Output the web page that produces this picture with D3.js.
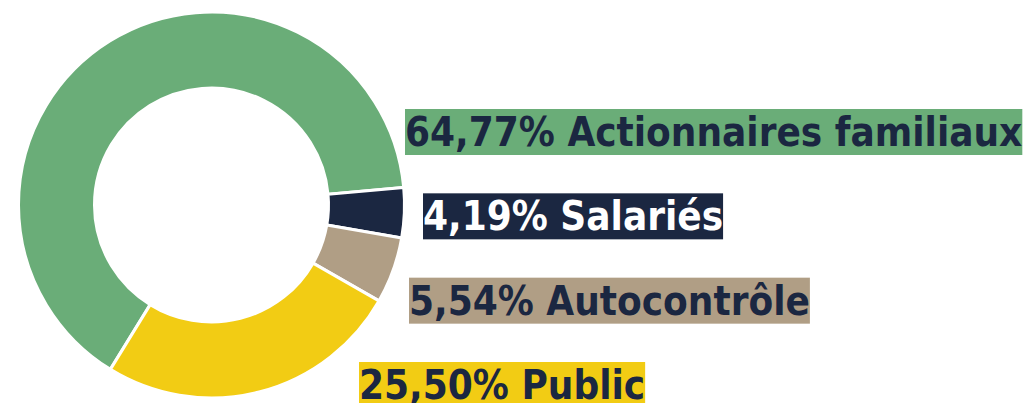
<!DOCTYPE html>
<html>
<head>
<meta charset="utf-8">
<script src="https://cdn.jsdelivr.net/npm/d3@7"></script>
<style>
  body { margin: 0; background: #fff; }
  svg { display: block; }
  text { font-family: "DejaVu Sans Condensed", "DejaVu Sans", sans-serif; font-stretch: condensed; font-weight: bold; font-size: 40px; }
</style>
</head>
<body>
<svg viewBox="0 0 1023 403" width="1023" height="403"></svg>
<script>
const categories = ["Actionnaires familiaux", "Salariés", "Autocontrôle", "Public"];
const shares = [64.77, 4.19, 5.54, 25.50];
const labels = ["64,77%", "4,19%", "5,54%", "25,50%"];
const fills = ["#6aad78", "#1b2741", "#b09e85", "#f2cc14"];
const textColors = ["#1b2741", "#ffffff", "#1b2741", "#1b2741"];
// horizontal nudge of each label from the donut centre
const labelDx = [193.5, 211.5, 197.5, 147.5];

const svg = d3.select("svg");
const cx = 211.5, cy = 205;
const outerR = 193, innerR = 117;

const data = categories.map((c, i) => ({ name: c, value: shares[i], label: labels[i], i: i }));

const pie = d3.pie()
    .value(d => d.value)
    .sort(null)
    .startAngle(-148.4 * Math.PI / 180)
    .endAngle((360 - 148.4) * Math.PI / 180);

const arc = d3.arc().innerRadius(innerR).outerRadius(outerR);

const g = svg.append("g").attr("transform", `translate(${cx},${cy})`);

g.selectAll("path")
    .data(pie(data))
    .enter()
    .append("path")
    .attr("d", arc)
    .attr("fill", d => fills[d.data.i])
    .attr("stroke", "#fff")
    .attr("stroke-width", 3);

const y = d3.scalePoint().domain(categories).range([146, 399]);

const lab = svg.append("g").selectAll("g")
    .data(data)
    .enter()
    .append("g");

lab.append("rect").attr("fill", d => fills[d.i]);

lab.append("text")
    .attr("x", d => cx + labelDx[d.i])
    .attr("y", d => y(d.name))
    .attr("fill", d => textColors[d.i])
    .text(d => `${d.label} ${d.name}`);

lab.each(function () {
    const t = d3.select(this).select("text").node().getBBox();
    d3.select(this).select("rect")
        .attr("x", t.x)
        .attr("y", t.y)
        .attr("width", t.width)
        .attr("height", t.height);
});
</script>
</body>
</html>
